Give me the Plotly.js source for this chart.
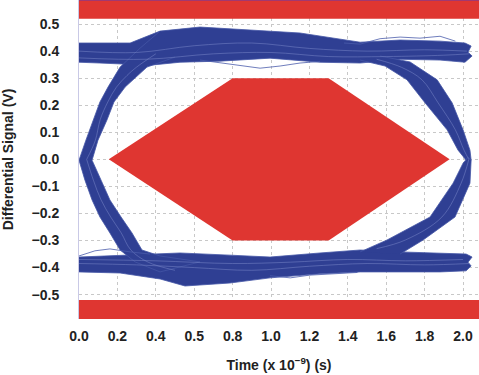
<!DOCTYPE html>
<html>
<head>
<meta charset="utf-8">
<script src="https://cdn.plot.ly/plotly-3.0.1.min.js"></script>
<style>html,body{margin:0;padding:0;background:#fff;}#chart{width:479px;height:375px;}</style>
</head>
<body>
<div id="chart"></div>
<script>
// ---- Data ----
// Tick values / labels
const xTickVals = [0, 0.2, 0.4, 0.6, 0.8, 1.0, 1.2, 1.4, 1.6, 1.8, 2.0];
const xTickText = ["0.0", "0.2", "0.4", "0.5", "0.8", "1.0", "1.2", "1.4", "1.6", "1.8", "2.0"];
const yTickVals = [0.5, 0.4, 0.3, 0.2, 0.1, 0.0, -0.1, -0.2, -0.3, -0.4, -0.5];
const yTickText = ["0.5", "0.4", "0.3", "0.2", "0.1", "0.0", "\u22120.1", "\u22120.2", "\u22120.3", "\u22120.4", "\u22120.5"];

// Eye mask (hexagon) and limit bands
const maskX = [0.155, 0.8, 1.3, 1.93, 1.3, 0.8, 0.155];
const maskY = [0, 0.3, 0.3, 0, -0.3, -0.3, 0];
const topBandX = [-0.1, 2.2, 2.2, -0.1, -0.1];
const topBandY = [0.52, 0.52, 0.7, 0.7, 0.52];
const botBandX = [-0.1, 2.2, 2.2, -0.1, -0.1];
const botBandY = [-0.52, -0.52, -0.7, -0.7, -0.52];

// Envelopes of the blue trace bundles
const upperRailX = [0, 0.266, 0.422, 0.63, 0.891, 1.151, 1.464, 1.672, 1.88, 2.01, 2.042, 2.026, 2.047, 2.021, 2.01, 1.88, 1.672, 1.464, 1.255, 0.995, 0.734, 0.526, 0.37, 0.109, 0];
const upperRailY = [0.43, 0.43, 0.474, 0.489, 0.478, 0.467, 0.433, 0.441, 0.437, 0.43, 0.419, 0.396, 0.382, 0.367, 0.359, 0.367, 0.37, 0.356, 0.359, 0.374, 0.363, 0.359, 0.348, 0.356, 0.359];

const lowerRailX = [0, 0.266, 0.526, 0.786, 0.995, 1.255, 1.464, 1.672, 1.88, 2.016, 2.047, 2.026, 2.042, 2.016, 1.88, 1.672, 1.464, 1.255, 0.995, 0.786, 0.552, 0.422, 0.214, 0];
const lowerRailY = [-0.361, -0.354, -0.346, -0.354, -0.361, -0.346, -0.335, -0.342, -0.346, -0.35, -0.361, -0.38, -0.394, -0.412, -0.416, -0.416, -0.416, -0.423, -0.438, -0.457, -0.468, -0.442, -0.42, -0.416];

const leftCrossX = [0.422, 0.318, 0.214, 0.151, 0.109, 0.073, 0.036, 0, 0.031, 0.068, 0.109, 0.161, 0.214, 0.292, 0.422, 0.63, 0.422, 0.328, 0.276, 0.219, 0.161, 0.115, 0.068, 0.099, 0.146, 0.182, 0.24, 0.354, 0.5];
const leftCrossY = [0.474, 0.411, 0.341, 0.267, 0.212, 0.146, 0.071, -0.003, -0.077, -0.15, -0.213, -0.272, -0.335, -0.379, -0.416, -0.379, -0.357, -0.335, -0.272, -0.213, -0.15, -0.077, -0.003, 0.071, 0.146, 0.212, 0.267, 0.341, 0.378];

const rightFallX = [1.568, 1.724, 1.865, 1.943, 2.0, 2.036, 2.042, 2.016, 1.974, 1.917, 1.802, 1.708, 1.594, 1.464];
const rightFallY = [0.382, 0.36, 0.294, 0.209, 0.109, 0.034, -0.003, -0.003, 0.034, 0.109, 0.209, 0.294, 0.345, 0.367];

const rightRiseX = [1.464, 1.604, 1.828, 1.948, 2.0, 2.026, 2.042, 2.036, 1.958, 1.792, 1.672];
const rightRiseY = [-0.342, -0.298, -0.213, -0.088, -0.014, 0.008, -0.003, -0.088, -0.213, -0.298, -0.35];

// A few stray individual traces at the bundle edges
const stray1X = [1.38, 1.464, 1.568, 1.672, 1.776, 1.88, 1.96];
const stray1Y = [0.43, 0.426, 0.446, 0.452, 0.448, 0.455, 0.437];
const stray2X = [0.63, 0.786, 0.943, 1.047, 1.151, 1.255];
const stray2Y = [0.367, 0.352, 0.337, 0.345, 0.356, 0.362];
const stray3X = [0, 0.083, 0.161, 0.266, 0.37];
const stray3Y = [-0.357, -0.338, -0.331, -0.342, -0.35];
const stray4X = [0.995, 1.1, 1.2, 1.3, 1.45];
const stray4Y = [-0.43, -0.438, -0.428, -0.424, -0.418];

// Lighter streaks seen inside the bundles
const streakUpAX = [0, 0.3, 0.6, 0.9, 1.2, 1.5, 1.8, 2.02];
const streakUpAY = [0.40, 0.395, 0.42, 0.43, 0.41, 0.40, 0.405, 0.40];
const streakUpBX = [0, 0.35, 0.7, 1.0, 1.3, 1.6, 1.9, 2.03];
const streakUpBY = [0.375, 0.37, 0.39, 0.395, 0.38, 0.38, 0.385, 0.39];
const streakLoAX = [0, 0.3, 0.6, 0.9, 1.2, 1.5, 1.8, 2.03];
const streakLoAY = [-0.385, -0.39, -0.40, -0.41, -0.395, -0.385, -0.39, -0.385];
const streakLoBX = [0, 0.4, 0.8, 1.1, 1.4, 1.7, 2.0];
const streakLoBY = [-0.37, -0.375, -0.385, -0.38, -0.37, -0.375, -0.37];
const streakLRX = [0.04, 0.085, 0.11, 0.15, 0.195, 0.25, 0.3, 0.4];
const streakLRY = [0, 0.07, 0.146, 0.212, 0.267, 0.31, 0.341, 0.39];
const streakLFX = [0.04, 0.075, 0.115, 0.165, 0.22, 0.27, 0.36, 0.5];
const streakLFY = [0, -0.077, -0.15, -0.213, -0.272, -0.335, -0.38, -0.41];
const streakRFX = [1.55, 1.68, 1.786, 1.87, 1.96, 2.005, 2.03];
const streakRFY = [0.37, 0.34, 0.294, 0.209, 0.109, 0.034, 0];
const streakRRX = [1.55, 1.7, 1.89, 1.99, 2.03];
const streakRRY = [-0.33, -0.298, -0.213, -0.088, 0];

const BLUE = '#2f3f93';
const EDGE = '#4456a6';
const RED = '#df3631';

function band(x, y) {
  return {x: x, y: y, type: 'scatter', mode: 'lines', fill: 'toself',
    fillcolor: BLUE, line: {color: EDGE, width: 0.8}, hoverinfo: 'skip', showlegend: false};
}
function stray(x, y) {
  return {x: x, y: y, type: 'scatter', mode: 'lines',
    line: {color: '#4a5cab', width: 0.8}, hoverinfo: 'skip', showlegend: false};
}
function streak(x, y) {
  return {x: x, y: y, type: 'scatter', mode: 'lines',
    line: {color: 'rgba(120,134,200,0.75)', width: 0.7, shape: 'spline'}, hoverinfo: 'skip', showlegend: false};
}
function redFill(x, y) {
  return {x: x, y: y, type: 'scatter', mode: 'lines', fill: 'toself',
    fillcolor: RED, line: {color: RED, width: 0}, hoverinfo: 'skip', showlegend: false};
}

const traces = [
  redFill(topBandX, topBandY),
  redFill(botBandX, botBandY),
  redFill(maskX, maskY),
  band(upperRailX, upperRailY),
  band(lowerRailX, lowerRailY),
  band(leftCrossX, leftCrossY),
  band(rightFallX, rightFallY),
  band(rightRiseX, rightRiseY),
  streak(streakUpAX, streakUpAY),
  streak(streakUpBX, streakUpBY),
  streak(streakLoAX, streakLoAY),
  streak(streakLoBX, streakLoBY),
  streak(streakLRX, streakLRY),
  streak(streakLFX, streakLFY),
  streak(streakRFX, streakRFY),
  streak(streakRRX, streakRRY),
  stray(stray1X, stray1Y),
  stray(stray2X, stray2Y),
  stray(stray3X, stray3Y),
  stray(stray4X, stray4Y)
];

const FONT = 'Liberation Sans, Arial, Helvetica, sans-serif';
const layout = {
  width: 479, height: 375,
  margin: {l: 79, r: 0, t: 0, b: 56},
  paper_bgcolor: '#ffffff', plot_bgcolor: '#ffffff',
  showlegend: false,
  font: {family: FONT, color: '#222222'},
  xaxis: {
    range: [0, 2.083], tickvals: xTickVals, ticktext: xTickText,
    tickfont: {family: FONT, size: 14, color: '#222222', weight: 'bold'},
    ticks: 'outside', ticklen: 4, tickcolor: 'rgba(0,0,0,0)',
    showgrid: true, gridcolor: '#c8c8c8', griddash: '3px,3px', gridwidth: 1,
    zeroline: false, showline: false, fixedrange: true,
    title: {text: 'Time (x 10<sup>\u22129</sup>) (s)', font: {family: FONT, size: 14, color: '#222222', weight: 'bold'}, standoff: 17}
  },
  yaxis: {
    range: [-0.59, 0.589], tickvals: yTickVals, ticktext: yTickText,
    tickfont: {family: FONT, size: 14, color: '#222222', weight: 'bold'},
    ticks: 'outside', ticklen: 16, tickcolor: 'rgba(0,0,0,0)',
    showgrid: true, gridcolor: '#c8c8c8', griddash: '3px,3px', gridwidth: 1,
    zeroline: false, showline: true, linecolor: '#c9c9e6', linewidth: 1, fixedrange: true,
    title: {text: 'Differential Signal (V)', font: {family: FONT, size: 14, color: '#222222', weight: 'bold'}, standoff: 14}
  },
  shapes: [
    {type: 'line', xref: 'paper', yref: 'paper', x0: 0, x1: 1, y0: 1, y1: 1, line: {color: '#8e3a86', width: 1.5}}
  ]
};

Plotly.newPlot('chart', traces, layout, {displayModeBar: false, staticPlot: true});
</script>
</body>
</html>
